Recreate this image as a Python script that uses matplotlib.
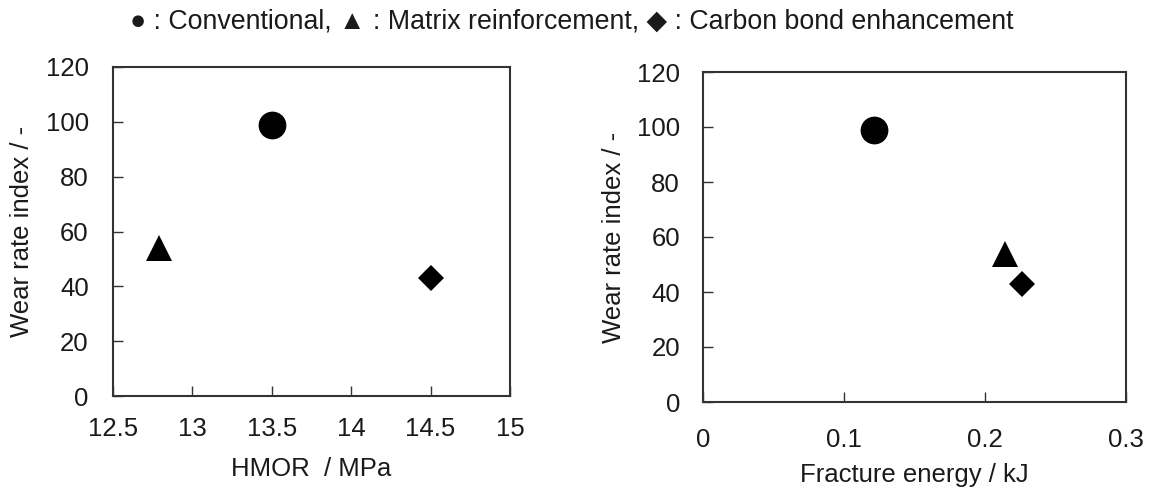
import matplotlib
matplotlib.use("Agg")
import matplotlib.pyplot as plt

# Data
labels = ["Conventional", "Matrix reinforcement", "Carbon bond enhancement"]
markers = ["o", "^", "D"]
hmor = [13.5, 12.79, 14.5]                # MPa
fracture_energy = [0.121, 0.214, 0.226]   # kJ
wear_hmor = [99, 54, 43]
wear_fe = [99, 54, 43]

left_xticks = [12.5, 13, 13.5, 14, 14.5, 15]
left_xticklabels = ["12.5", "13", "13.5", "14", "14.5", "15"]
right_xticks = [0, 0.1, 0.2, 0.3]
right_xticklabels = ["0", "0.1", "0.2", "0.3"]
yticks = [0, 20, 40, 60, 80, 100, 120]

plt.rcParams['font.family'] = ['Liberation Sans', 'DejaVu Sans']
TXT = '#1a1a1a'
FS = 18.5

W, H = 1150, 488
fig = plt.figure(figsize=(W / 100, H / 100), dpi=100)

def px_axes(x0, y0, x1, y1):
    return fig.add_axes([x0 / W, (H - y1) / H, (x1 - x0) / W, (y1 - y0) / H])

ax1 = px_axes(113, 67, 510, 396)
ax2 = px_axes(703, 72, 1126, 402)

msizes = {"o": 20, "^": 19, "D": 13.5}

def style(ax, xlim, xticks, xticklabels, xlabel, xpad, ypad, ylabx, xlaby):
    ax.set_xlim(*xlim)
    ax.set_ylim(0, 120)
    ax.set_xticks(xticks)
    ax.set_xticklabels(xticklabels)
    ax.set_yticks(yticks)
    ax.set_yticklabels([str(v) for v in yticks])
    ax.tick_params(axis='both', direction='in', length=7, width=1.0, color='#333333',
                   labelsize=FS, labelcolor=TXT)
    ax.tick_params(axis='x', pad=xpad)
    ax.tick_params(axis='y', pad=ypad)
    for s in ax.spines.values():
        s.set_linewidth(1.5)
        s.set_color('#333333')
    ax.set_xlabel(xlabel, fontsize=FS, color=TXT)
    ax.set_ylabel("Wear rate index / -", fontsize=FS, color=TXT)
    ax.yaxis.set_label_coords(ylabx, 0.5)
    ax.xaxis.set_label_coords(0.5, xlaby)

for x, y, m in zip(hmor, wear_hmor, markers):
    ax1.plot([x], [y], linestyle='none', marker=m, markersize=msizes[m], color='black',
             markeredgewidth=0, clip_on=False)
for x, y, m in zip(fracture_energy, wear_fe, markers):
    ax2.plot([x], [y], linestyle='none', marker=m, markersize=msizes[m], color='black',
             markeredgewidth=0, clip_on=False)

style(ax1, (12.5, 15), left_xticks, left_xticklabels, "HMOR  / MPa", 15, 17.5, -0.199, -0.185)
style(ax2, (0, 0.3), right_xticks, right_xticklabels, "Fracture energy / kJ", 19, 16.5, -0.182, -0.185)

fig.text(572 / W, 1 - 21 / H,
         "\u25cf : " + labels[0] + ", \u25b2 : " + labels[1] + ", \u25c6 : " + labels[2],
         ha='center', va='center', fontsize=19.3, color=TXT)

fig.savefig("out.png", dpi=100, facecolor='white')
